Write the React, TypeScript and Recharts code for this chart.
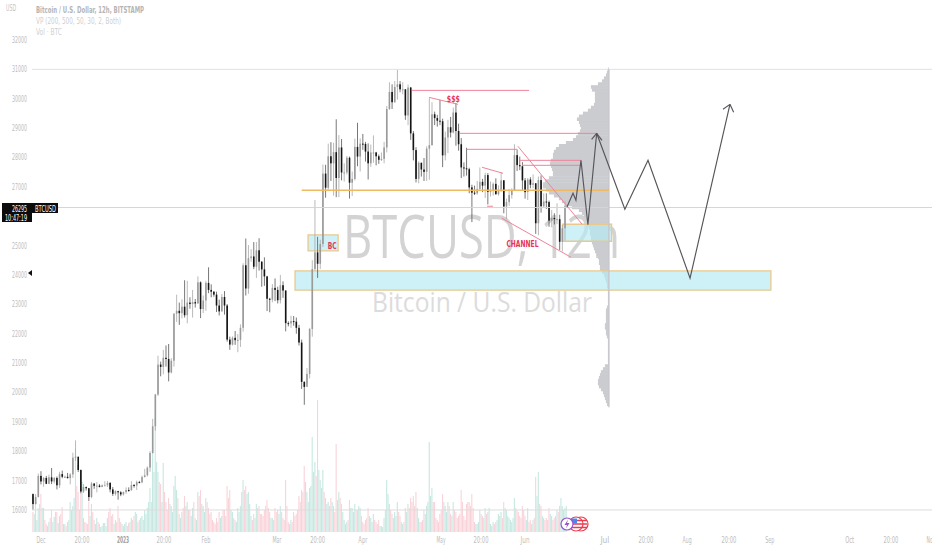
import { Bar, Cell, ComposedChart, Line, ReferenceArea, ReferenceDot, ReferenceLine, XAxis, YAxis } from "recharts";

// daily bars, Nov 28 2022 -> Jun 16 2023. day 0 = Dec 1
const firstDay = -3;
const firstOpen = 16550;

const closes = [
  16200, 16440, 17160,
  16970, 17090, 16890, 17110, 16970, 17090, 16840, 17220, 17130, 17130, 17085, 17210, 17780, 17815, 17360, 16630, 16780, 16740, 16440, 16900, 16820, 16830, 16780, 16840, 16840, 16920, 16700, 16550, 16640, 16600, 16530,
  16610, 16680, 16670, 16850, 16830, 16950, 16940, 17120, 17180, 17440, 17940, 18850, 19930, 20950, 20870, 21180, 21140, 20680, 21080, 22680, 22780, 22700, 22920, 22630, 23060, 23010, 23075, 23030, 23750, 22840, 23130,
  23730, 23490, 23430, 23330, 22960, 22760, 23250, 22960, 21800, 21630, 21860, 21780, 21790, 22200, 24330, 23540, 24570, 24630, 24280, 24840, 24450, 24190, 23950, 23190, 23160, 23560, 23490, 23140,
  23650, 23470, 22360, 22350, 22430, 22410, 22200, 21700, 20360, 20190, 20630, 22160, 24200, 24770, 24380, 25050, 27450, 26970, 28040, 27800, 28180, 27300, 28340, 27490, 27490, 27990, 27140, 27270, 28360, 28030, 28470,
  28460, 28200, 27800, 28170, 28170, 28040, 27920, 27950, 28340, 29650, 30230, 29880, 30400, 30490, 30320, 30320, 29430, 30380, 28820, 28250, 27270, 27820, 27590, 27510, 28300, 28420, 29470, 29340, 29250, 29230,
  28070, 28680, 29030, 28850, 29530, 28900, 28450, 27660, 27630, 27600, 26980, 26800, 26780, 26930, 27170, 27040, 27400, 26830, 26890, 27100, 26750, 26850, 27220, 26330, 26480, 26720, 26870, 28080, 27740, 27700, 27220,
  26820, 27250, 27070, 27120, 25760, 27230, 26340, 26500, 26480, 25850, 25940, 25900, 25900, 25130, 25590, 26340,
];
const highs = [
  16490, 16540, 17240,
  17320, 17120, 17160, 17200, 17430, 17120, 17140, 17300, 17340, 17170, 17260, 17250, 17950, 18370, 17530, 17380, 16880, 16800, 16750, 16950, 16910, 16950, 16880, 16870, 16980, 16990, 16950, 16780, 16670, 16650, 16640,
  16630, 16770, 16770, 16980, 16880, 17000, 16990, 17170, 17400, 17480, 18000, 19100, 19950, 21250, 21050, 21450, 21600, 21650, 21170, 22700, 23330, 23060, 23170, 23820, 23800, 23240, 23490, 23180, 23950, 23780, 23300,
  23800, 24260, 23680, 23450, 23430, 23160, 23350, 23450, 23010, 21900, 21910, 22090, 21990, 22320, 24400, 25240, 25020, 24880, 25120, 25120, 25250, 24470, 24600, 23970, 23220, 23690, 23880, 23600,
  24000, 23780, 23480, 22420, 22610, 22600, 22550, 22300, 21800, 20380, 20830, 22200, 24500, 26550, 25300, 25200, 27760, 27750, 28470, 28520, 28500, 29300, 28760, 28630, 27800, 28050, 28030, 27520, 28640, 29180, 28650,
  28800, 28530, 28480, 28440, 28750, 28190, 28100, 28170, 28530, 29750, 30560, 30490, 30600, 31000, 30600, 30560, 30320, 30480, 30400, 28900, 28350, 27870, 27820, 27980, 28380, 30020, 29880, 29560, 29450, 29960,
  29320, 28880, 29280, 29380, 29700, 29850, 29150, 28660, 27830, 28330, 27650, 27070, 27040, 27200, 27660, 27270, 27480, 27470, 27180, 27150, 27290, 27050, 27500, 27230, 26600, 26930, 26950, 28450, 28270, 28030, 27840,
  27300, 27300, 27330, 27420, 27130, 27350, 27390, 26780, 26780, 26530, 26210, 26100, 26440, 26050, 25700, 26500,
];
const lows = [
  16000, 16190, 16430,
  16870, 16790, 16880, 16880, 16880, 16900, 16700, 16750, 17080, 17090, 17070, 16870, 17090, 17670, 17290, 16570, 16580, 16660, 16300, 16400, 16720, 16600, 16770, 16780, 16830, 16780, 16600, 16480, 16490, 16350, 16470,
  16490, 16550, 16620, 16660, 16760, 16680, 16910, 16910, 17110, 17140, 17300, 17920, 18700, 19880, 20550, 20620, 20880, 20380, 20650, 20880, 22400, 22300, 22520, 22550, 22350, 22850, 22550, 22890, 23020, 22530, 22700,
  22780, 23380, 23240, 23260, 22740, 22620, 22750, 22650, 21730, 21450, 21600, 21620, 21370, 21550, 22070, 23300, 23360, 24450, 24200, 23900, 24150, 23600, 23630, 22770, 22730, 23070, 23110, 23030,
  23030, 23220, 22080, 22250, 22200, 22270, 22000, 21600, 20120, 19580, 20300, 20480, 21900, 24150, 23900, 24200, 24950, 26630, 26900, 27200, 26700, 26650, 26650, 27220, 27180, 27420, 26600, 26690, 27220, 27700, 27520,
  28260, 27860, 27250, 27680, 27820, 27730, 27780, 27880, 27800, 28170, 29620, 29650, 29860, 29970, 30220, 30150, 29280, 29100, 28600, 27900, 27150, 27120, 27350, 27200, 27200, 27240, 28400, 29100, 29050, 29100,
  27670, 27900, 28150, 28680, 28820, 28400, 28230, 27300, 27350, 27380, 26780, 25800, 26720, 26730, 26860, 26820, 26620, 26400, 26670, 26700, 26730, 26700, 26840, 26100, 25900, 26350, 26600, 26860, 27540, 27570, 26860,
  26600, 26550, 26950, 26950, 25400, 25350, 26120, 26300, 26250, 25640, 25620, 25720, 25730, 24850, 24800, 25170,
];
// volume of the day's first and second 12h session
const volumes = [
  20, 30, 24,
  38, 24, 8, 10, 22, 15, 20, 16, 25, 8, 10, 30, 26, 84, 40, 44, 14, 9, 30, 28, 12, 14, 8, 6, 9, 14, 24, 18, 12, 26, 10,
  6, 10, 9, 14, 16, 18, 12, 16, 22, 24, 44, 84, 114, 60, 48, 69, 30, 34, 26, 46, 42, 18, 20, 36, 30, 22, 24, 14, 40, 42, 26,
  34, 24, 20, 10, 14, 20, 16, 22, 46, 42, 20, 12, 24, 26, 52, 46, 40, 16, 18, 28, 26, 18, 22, 32, 20, 14, 24, 22,
  26, 14, 52, 10, 12, 20, 18, 36, 42, 66, 40, 44, 95, 70, 132, 52, 62, 34, 30, 34, 26, 88, 40, 28, 12, 10, 32, 24, 28, 22, 24,
  10, 12, 24, 14, 18, 10, 12, 6, 14, 52, 28, 18, 20, 30, 16, 8, 24, 28, 34, 36, 40, 14, 10, 22, 26, 90, 44, 30, 12, 18,
  38, 26, 30, 18, 30, 20, 16, 42, 16, 28, 30, 38, 10, 8, 22, 16, 24, 20, 8, 10, 10, 18, 20, 30, 22, 14, 10, 34, 22, 16, 26,
  16, 24, 12, 12, 55, 60, 26, 14, 14, 24, 16, 14, 22, 26, 26, 24,
];
const nightVolumes = [
  18, 12, 28,
  24, 12, 6, 14, 10, 20, 9, 18, 8, 6, 12, 22, 34, 46, 22, 50, 10, 8, 16, 20, 8, 10, 5, 9, 6, 20, 16, 8, 10, 14, 8,
  8, 6, 10, 12, 20, 10, 14, 12, 18, 30, 30, 60, 70, 50, 30, 40, 22, 28, 20, 56, 34, 14, 24, 26, 22, 16, 30, 12, 36, 28, 20,
  30, 18, 12, 8, 10, 14, 22, 16, 34, 22, 14, 10, 20, 40, 42, 38, 28, 12, 14, 24, 18, 16, 26, 24, 14, 12, 20, 18,
  20, 12, 26, 8, 10, 16, 22, 30, 40, 50, 30, 46, 60, 56, 62, 44, 40, 28, 26, 30, 20, 32, 34, 20, 8, 12, 24, 20, 22, 26, 16,
  8, 14, 16, 10, 12, 8, 6, 5, 22, 38, 22, 14, 16, 20, 10, 10, 20, 24, 30, 26, 24, 10, 12, 18, 30, 36, 30, 14, 10, 22,
  30, 20, 26, 16, 22, 14, 18, 30, 12, 30, 26, 24, 8, 10, 18, 14, 18, 24, 6, 8, 12, 16, 14, 24, 16, 12, 14, 24, 20, 14, 22,
  12, 10, 8, 14, 36, 28, 16, 12, 12, 18, 12, 16, 20, 34, 22, 26,
];

const priceTicks = [32000, 31000, 30000, 29000, 28000, 27000, 25000, 24000, 23000, 22000, 21000, 20000, 19000, 18000, 17000, 16000];
const timeTicks = [0, 15.4, 30.8, 46.2, 62, 88.7, 104, 121, 150.4, 165.4, 182, 212, 227.4, 242.9, 258.6, 274, 304, 319.5, 334.6];
const timeLabels = ["Dec", "20:00", "2023", "20:00", "Feb", "Mar", "20:00", "Apr", "May", "20:00", "Jun", "Jul", "20:00", "Aug", "20:00", "Sep", "Oct", "20:00", "Nov"];

// volume profile, one row per 100 USD from the top
const profileTop = 31000;
const profileSizes = [
  1, 2, 3, 5, 7, 11, 18, 17, 14, 14,
  14, 14, 15, 18, 21, 26, 30, 32, 30, 29,
  28, 29, 31, 33, 36, 43, 50, 53, 55, 56,
  56, 58, 59, 58, 57, 56, 56, 60, 64, 66,
  66, 63, 60, 55, 50, 47, 44, 37, 30, 27,
  25, 23, 22, 21, 20, 19, 19, 18, 18, 17,
  16, 15, 14, 12, 11, 10, 10, 9, 9, 7,
  5, 4, 3, 2, 2, 1, 1, 1, 1, 1,
  1, 2, 3, 3, 3, 3, 3, 4, 4, 3,
  3, 2, 1, 1, 1, 1, 1, 1, 1, 1,
  1, 4, 6, 8, 9, 10, 11, 11, 10, 8,
  6, 5, 4, 3, 2,
];
const profileEnd = 213.5;

const forecast = [
  { day: 197.7, price: 26305 },
  { day: 200, price: 26781 },
  { day: 201.1, price: 26543 },
  { day: 203, price: 27904 },
  { day: 205.6, price: 25710 },
  { day: 208.9, price: 28822 },
  { day: 219.5, price: 26237 },
  { day: 228.2, price: 27904 },
  { day: 244, price: 23890 },
  { day: 259, price: 29808 },
];
const arrowHeads = [
  [207, 28618, 208.9, 28822],
  [210.9, 28584, 208.9, 28822],
  [256.4, 29638, 259, 29808],
  [260.4, 29536, 259, 29808],
];
const redLines = [
  [139.5, 30284, 183.5, 30284],
  [157.5, 28821, 209, 28821],
  [160, 28277, 179, 28277],
  [180, 27902, 203, 27902],
  [180.8, 27733, 203, 27733],
  [145.9, 30046, 156.8, 29808],
  [165.8, 27666, 173.7, 27461],
  [167.7, 26339, 169.9, 26339],
  [179.3, 28380, 203.4, 25727],
  [173.3, 25931, 199.2, 24605],
];
const zones = [
  [95.5, 274.4, 23482, 24139],
  [100.4, 111.7, 24820, 25363],
  [196.1, 214.5, 25148, 25727],
];
const notes = [
  { day: 155, price: 29990, text: "$$$", len: 13 },
  { day: 109.5, price: 24970, text: "BC", len: 9 },
  { day: 181, price: 25070, text: "CHANNEL", len: 32 },
];

const rows = closes.flatMap((close, i) => {
  const open = i === 0 ? firstOpen : closes[i - 1];
  const up = close >= open;
  return [
    { day: firstDay + i, open, close, high: highs[i], low: lows[i], range: [lows[i], highs[i]], vol: volumes[i], up },
    { day: firstDay + i + 0.5, vol: nightVolumes[i], up: i + 1 < closes.length ? closes[i + 1] >= close : up },
  ];
});

const domainX: [number, number] = [-3.38, 334.96];
const UI_FONT = "'DejaVu Sans', sans-serif";

const Candle = (props: any) => {
  const { x, y, width, height, payload } = props;
  if (payload.high === undefined) return null;
  const k = height / (payload.high - payload.low);
  const top = y + (payload.high - Math.max(payload.open, payload.close)) * k;
  const h = Math.max(Math.abs(payload.close - payload.open) * k, 1);
  const color = payload.up ? "#9a9a9a" : "#141414";
  const cx = x + width / 2;
  return (
    <g>
      <line x1={cx} x2={cx} y1={y} y2={y + height} stroke={payload.up ? "#a8a8a8" : "#555"} strokeWidth={0.8} />
      <rect x={cx - 0.8} y={top} width={1.6} height={h} fill={color} />
    </g>
  );
};

const PriceTick = ({ x, y, payload }: any) => (
  <text x={x} y={y + 3} textAnchor="end" textLength={15} lengthAdjust="spacingAndGlyphs" fontSize={9} fill="#bdbdbd" fontFamily={UI_FONT}>
    {payload.value}
  </text>
);

const TimeTick = ({ x, y, payload }: any) => {
  const label = timeLabels[timeTicks.indexOf(payload.value)];
  const bold = label === "2023";
  return (
    <text x={x} y={y + 11} textAnchor="middle" textLength={label.length * 3} lengthAdjust="spacingAndGlyphs" fontSize={9} fontWeight={bold ? 700 : 400} fill={bold ? "#a0a0a0" : "#bdbdbd"} fontFamily={UI_FONT}>
      {label}
    </text>
  );
};

const noteLabel = (text: string, len: number) => (p: any) => (
  <text x={p.viewBox.x} y={p.viewBox.y + 3} textAnchor="middle" textLength={len} lengthAdjust="spacingAndGlyphs" fontSize={9.5} fontWeight={700} fill="#e8345c" fontFamily={UI_FONT}>
    {text}
  </text>
);

export default function App() {
  return (
    <div style={{ position: "absolute", left: 0, top: 0, width: 932, height: 550, background: "#fff", overflow: "hidden" }}>
      {/* watermark sits under the chart */}
      <svg width={932} height={550} style={{ position: "absolute", left: 0, top: 0 }}>
        <text x={343} y={258} textLength={277} lengthAdjust="spacingAndGlyphs" fontSize={60} fill="#d3d3d3" fontFamily="'Open Sans', sans-serif">
          BTCUSD, 12h
        </text>
        <text x={372} y={312} textLength={220} lengthAdjust="spacingAndGlyphs" fontSize={28} fill="#dcdcdc" fontFamily="'Open Sans', sans-serif">
          Bitcoin / U.S. Dollar
        </text>
      </svg>

      <div style={{ position: "absolute", left: 0, top: 0 }}>
        <ComposedChart width={932} height={550} data={rows} margin={{ top: 0, right: 0, bottom: 0, left: 0 }}>
          <XAxis dataKey="day" type="number" domain={domainX} ticks={timeTicks} interval={0} tick={<TimeTick />} tickSize={0} tickMargin={0} axisLine={false} tickLine={false} height={18} allowDataOverflow />
          <XAxis xAxisId="vol" dataKey="day" type="number" domain={domainX} hide allowDataOverflow />
          <YAxis type="number" domain={[15250, 33360]} ticks={priceTicks} interval={0} tick={<PriceTick />} tickSize={0} tickMargin={5} axisLine={false} tickLine={false} width={32} allowDataOverflow />
          <YAxis yAxisId="vol" type="number" domain={[0, 532]} hide allowDataOverflow />

          <Bar xAxisId="vol" yAxisId="vol" dataKey="vol" barSize={1.1} isAnimationActive={false}>
            {rows.map((r, i) => (
              <Cell key={i} fill={r.up ? "#c6e8e1" : "#f9d3da"} />
            ))}
          </Bar>

          <ReferenceLine y={31000} stroke="#e2e0e4" strokeWidth={1} />
          <ReferenceLine y={16000} stroke="#dedcdc" strokeWidth={1} />
          <ReferenceLine y={26295} stroke="#f7c6d0" strokeWidth={1} />

          {profileSizes.map((size, i) => (
            <ReferenceArea key={i} x1={profileEnd - size / 2.66} x2={profileEnd} y1={profileTop - i * 100 - 60} y2={profileTop - i * 100 + 60} fill="#cbccd0" fillOpacity={1} stroke="none" />
          ))}
          <ReferenceLine segment={[{ x: profileEnd, y: 31000 }, { x: profileEnd, y: 19500 }]} stroke="#c6c7ca" strokeWidth={1.4} />

          {zones.map((z, i) => (
            <ReferenceArea key={i} x1={z[0]} x2={z[1]} y1={z[2]} y2={z[3]} fill="#b6ebf3" fillOpacity={0.68} stroke="#e9c98d" strokeWidth={1.3} />
          ))}

          <ReferenceLine segment={[{ x: 98, y: 26883 }, { x: 213.5, y: 26883 }]} stroke="#edb964" strokeWidth={1.6} />
          {redLines.map((l, i) => (
            <ReferenceLine key={i} segment={[{ x: l[0], y: l[1] }, { x: l[2], y: l[3] }]} stroke="#ee8499" strokeWidth={1} />
          ))}

          <Bar dataKey="range" barSize={2} shape={<Candle />} isAnimationActive={false} />

          <Line data={forecast} dataKey="price" type="linear" stroke="#55555a" strokeWidth={1.15} dot={false} isAnimationActive={false} />
          {arrowHeads.map((l, i) => (
            <ReferenceLine key={i} segment={[{ x: l[0], y: l[1] }, { x: l[2], y: l[3] }]} stroke="#55555a" strokeWidth={1.15} />
          ))}

          {notes.map((n) => (
            <ReferenceDot key={n.text} x={n.day} y={n.price} r={0} fill="none" stroke="none" label={noteLabel(n.text, n.len)} />
          ))}
        </ComposedChart>
      </div>

      {/* header, last price tag and event icons */}
      <svg width={932} height={550} style={{ position: "absolute", left: 0, top: 0 }} fontFamily={UI_FONT}>
        <text x={6} y={11} textLength={10} lengthAdjust="spacingAndGlyphs" fontSize={9} fill="#c4c4c4">USD</text>
        <text x={36} y={13} textLength={108} lengthAdjust="spacingAndGlyphs" fontSize={9.5} fontWeight={700} fill="#b5b5b5">Bitcoin / U.S. Dollar, 12h, BITSTAMP</text>
        <text x={36} y={24} textLength={85} lengthAdjust="spacingAndGlyphs" fontSize={9.5} fill="#cfcfcf">VP (200, 500, 50, 30, 2, Both)</text>
        <text x={36} y={35} textLength={26} lengthAdjust="spacingAndGlyphs" fontSize={9.5} fill="#cfcfcf">Vol · BTC</text>

        <rect x={2} y={203} width={30} height={19} fill="#0c0c0c" />
        <rect x={32} y={203} width={26} height={10} fill="#0c0c0c" />
        <text x={27} y={211.5} textAnchor="end" textLength={15} lengthAdjust="spacingAndGlyphs" fontSize={9} fill="#fff">26295</text>
        <text x={35} y={211.5} textLength={21} lengthAdjust="spacingAndGlyphs" fontSize={9} fill="#fff">BTCUSD</text>
        <text x={5} y={220.5} textLength={22} lengthAdjust="spacingAndGlyphs" fontSize={9} fill="#fff">10:47:19</text>
        <polygon points="28,273 32,270 32,276" fill="#111" />

        <circle cx={581} cy={524} r={7} fill="#fff" stroke="#ec3a4f" strokeWidth={1.2} />
        <circle cx={576} cy={524} r={7} fill="#fff" stroke="#ec3a4f" strokeWidth={1.2} />
        <line x1={570} x2={587} y1={520.5} y2={520.5} stroke="#ec3a4f" strokeWidth={1.5} />
        <line x1={570} x2={587} y1={524} y2={524} stroke="#ec3a4f" strokeWidth={1.5} />
        <line x1={570} x2={587} y1={527.5} y2={527.5} stroke="#ec3a4f" strokeWidth={1.5} />
        <rect x={571} y={518.5} width={6} height={5} fill="#4d86ea" />
        <circle cx={567} cy={524} r={6} fill="#fff" stroke="#9a55c8" strokeWidth={1.2} />
        <polygon points="568,519.5 564.5,525 567,525 566,528.5 569.5,523 567,523" fill="#9a55c8" />
      </svg>
    </div>
  );
}
